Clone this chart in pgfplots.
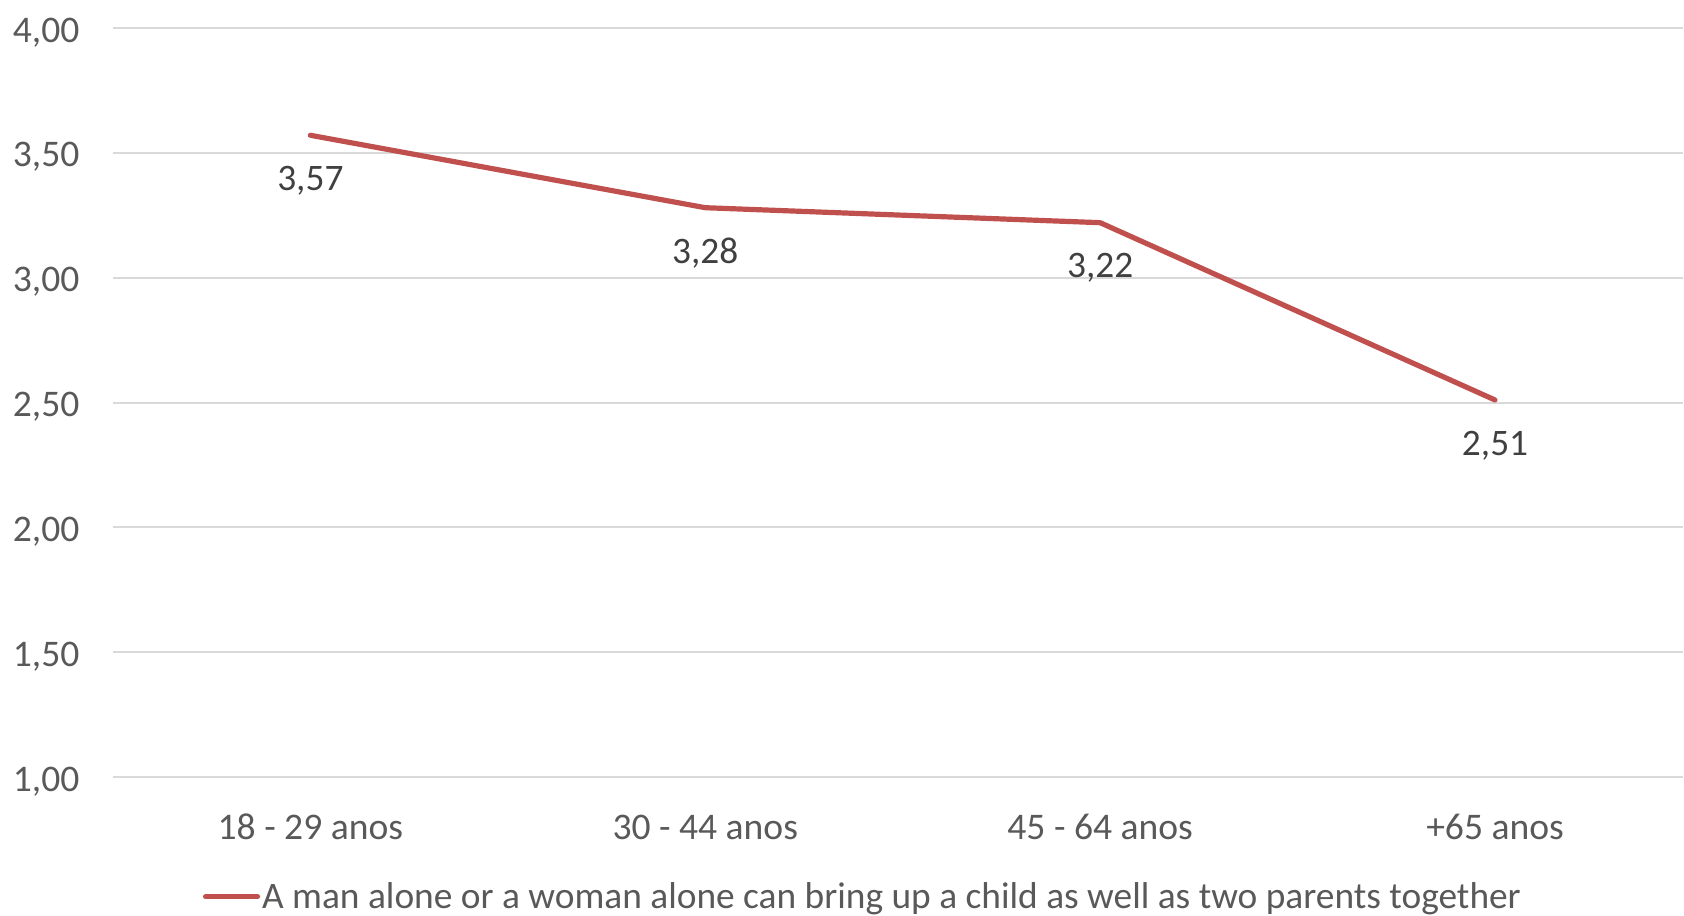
\documentclass[border=0pt]{standalone}
\usepackage{fontspec}
\setmainfont{Carlito}
\usepackage{pgfplots}
\pgfplotsset{compat=1.18}
\definecolor{seriesred}{HTML}{C0504D}
\definecolor{gridgray}{HTML}{D9D9D9}
\definecolor{ticktext}{HTML}{595959}
\definecolor{labeltext}{HTML}{404040}
\begin{document}
\begin{tikzpicture}
\begin{axis}[
  at={(0pt,0pt)}, anchor=south west,
  scale only axis,
  width=785.5pt, height=374.85pt,
  xmin=-0.5, xmax=3.476,
  ymin=1, ymax=4,
  ytick={1,1.5,2,2.5,3,3.5,4},
  xtick={0,1,2,3},
  xticklabels={18 - 29 anos, 30 - 44 anos, 45 - 64 anos, +65 anos},
  axis line style={draw=none},
  major tick length=0pt,
  ymajorgrids,
  grid style={gridgray, line width=1pt},
  font=\fontsize{18.8}{22}\selectfont,
  tick label style={ticktext},
  /pgf/number format/.cd, fixed, fixed zerofill, precision=2, use comma, assume math mode=true,
  /pgfplots/.cd,
  yticklabel style={anchor=east, inner sep=0pt, xshift=-16.6pt, yshift=-2.2pt},
  xticklabel style={anchor=base, inner sep=0pt, yshift=-31pt},
  clip=true,
  legend style={draw=none, fill=none, at={(axis description cs:0.4777,-0.1595)}, anchor=center,
    font=\fontsize{18.7}{22}\selectfont, text=ticktext, inner sep=0pt,
    nodes={inner sep=1pt}},
  legend image code/.code={\draw[#1, line cap=round] (0pt,0pt) -- (26pt,0pt);},
  nodes near coords,
  nodes near coords style={labeltext, anchor=center, yshift=-22.8pt, font=\fontsize{18.7}{22}\selectfont,
    /pgf/number format/.cd, fixed, fixed zerofill, precision=2, use comma, assume math mode=true},
]
\addplot[seriesred, line width=2.6pt, line cap=round, line join=round] coordinates {
  (0,3.57) (1,3.28) (2,3.22) (3,2.51)
};
\addlegendentry{A man alone or a woman alone can bring up a child as well as two parents together}
\end{axis}
\useasboundingbox (-56.5pt,-69.2pt) rectangle (785.5pt,388.8pt);
\end{tikzpicture}
\end{document}
